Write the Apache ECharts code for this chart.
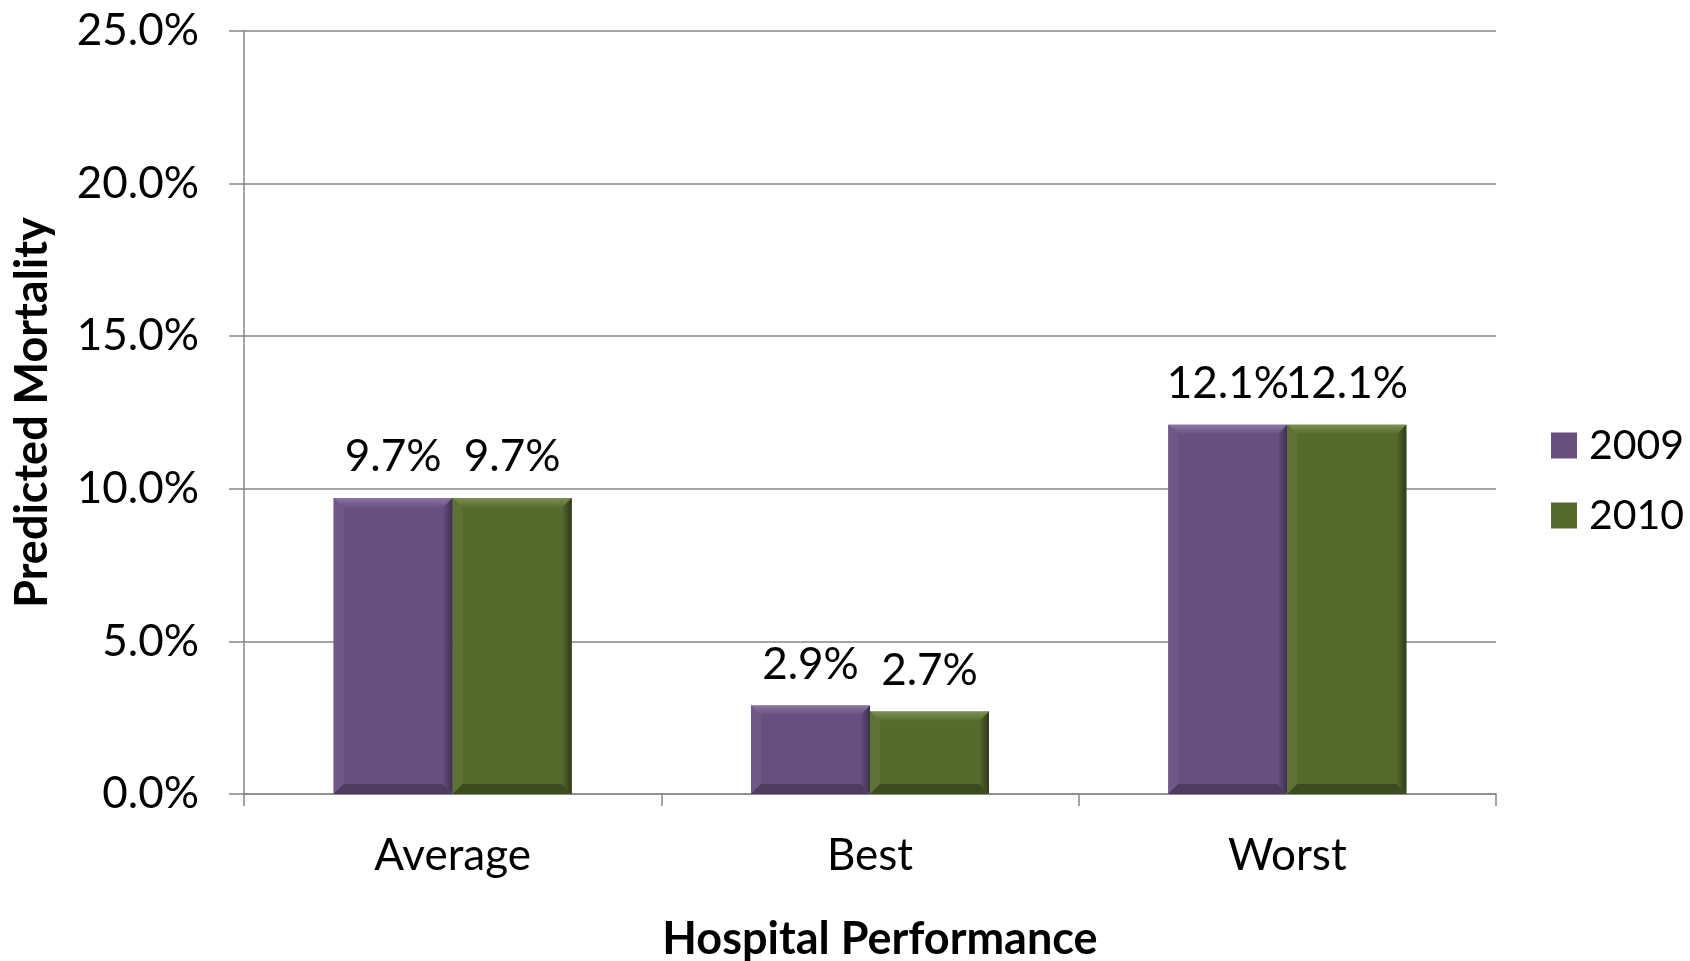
<!DOCTYPE html>
<html>
<head>
<meta charset="utf-8">
<script src="https://cdn.jsdelivr.net/npm/echarts@6/dist/echarts.min.js"></script>
<style>
  html, body { margin: 0; padding: 0; background: #ffffff; }
  #chart { width: 1690px; height: 961px; }
</style>
</head>
<body>
<div id="chart"></div>
<script>
// Predicted mortality by hospital performance group, 2009 vs 2010 (percent)
const categories = ['Average', 'Best', 'Worst'];
const years = ['2009', '2010'];
const values2009 = [9.7, 2.9, 12.1];
const values2010 = [9.7, 2.7, 12.1];
const yTicks = [0, 5, 10, 15, 20, 25];

const FONT = 'Lato, "Open Sans", sans-serif';
const BAR_W = 119;
const BEVEL = 10;

// base fill and bevel facets (top, left, right, bottom) per year
const palette = [
  { base: '#675080', top: '#8b76a6', left: '#6f5889', right: '#3e2f4e', bottom: '#4d3b60' },
  { base: '#566a2d', top: '#7b9052', left: '#5e7333', right: '#2e3a16', bottom: '#3d4c1e' }
];

function bevelRenderer(seriesIdx) {
  return function (params, api) {
    const cat = api.value(0);
    const val = api.value(1);
    const base = api.coord([cat, 0]);
    const top = api.coord([cat, val]);
    const x0 = seriesIdx === 0 ? base[0] - BAR_W : base[0];
    const x1 = x0 + BAR_W;
    const y0 = top[1];
    const y1 = base[1];
    const b = Math.min(BEVEL, (y1 - y0) / 2);
    const p = palette[seriesIdx];
    const poly = (pts, fill) => ({ type: 'polygon', shape: { points: pts }, style: { fill: fill }, silent: true });
    return {
      type: 'group',
      children: [
        poly([[x0, y0], [x1, y0], [x1 - b, y0 + b], [x0 + b, y0 + b]], {
          type: 'linear', x: 0, y: 0, x2: 0, y2: 1,
          colorStops: [{ offset: 0, color: p.top }, { offset: 1, color: p.base }]
        }),
        poly([[x0, y0], [x0 + b, y0 + b], [x0 + b, y1 - b], [x0, y1]], p.left),
        poly([[x1, y0], [x1, y1], [x1 - b, y1 - b], [x1 - b, y0 + b]], {
          type: 'linear', x: 0, y: 0, x2: 1, y2: 0,
          colorStops: [{ offset: 0, color: p.base }, { offset: 1, color: p.right }]
        }),
        poly([[x0, y1], [x0 + b, y1 - b], [x1 - b, y1 - b], [x1, y1]], p.bottom)
      ]
    };
  };
}

const seriesValues = [values2009, values2010];

const barSeries = years.map((y, i) => ({
  name: y,
  type: 'bar',
  data: seriesValues[i],
  barWidth: BAR_W,
  barGap: '0%',
  itemStyle: { color: palette[i].base },
  label: {
    show: true,
    position: 'top',
    distance: 19,
    color: '#000000',
    fontFamily: FONT,
    fontSize: 44,
    formatter: (p) => p.value.toFixed(1) + '%'
  },
  z: 2
}));

const bevelSeries = years.map((y, i) => ({
  name: 'bevel-' + y,
  type: 'custom',
  renderItem: bevelRenderer(i),
  data: seriesValues[i].map((v, k) => [k, v]),
  encode: { x: 0, y: 1 },
  silent: true,
  z: 3
}));

const chart = echarts.init(document.getElementById('chart'), null, { renderer: 'canvas' });
chart.setOption({
  backgroundColor: '#ffffff',
  animation: false,
  textStyle: { fontFamily: FONT },
  grid: { left: 244, right: 194, top: 31, bottom: 167, containLabel: false, outerBoundsMode: 'none' },
  legend: {
    data: years,
    orient: 'vertical',
    left: 1551,
    top: 425,
    padding: 0,
    itemWidth: 26,
    itemHeight: 26,
    itemGap: 29,
    icon: 'rect',
    textStyle: { fontFamily: FONT, fontSize: 41, color: '#000000', padding: [0, 0, 0, 7] }
  },
  xAxis: {
    type: 'category',
    data: categories,
    name: 'Hospital Performance',
    nameLocation: 'middle',
    nameGap: 123,
    nameTextStyle: { fontFamily: FONT, fontSize: 45, fontWeight: 'bold', color: '#000000', padding: [0, 0, 0, 20] },
    axisLine: { show: true, lineStyle: { color: '#868686', width: 1.5 } },
    axisTick: { show: true, length: 12, lineStyle: { color: '#868686', width: 1.5 } },
    axisLabel: { fontFamily: FONT, fontSize: 44, color: '#000000', margin: 40 }
  },
  yAxis: {
    type: 'value',
    min: yTicks[0],
    max: yTicks[yTicks.length - 1],
    interval: yTicks[1] - yTicks[0],
    name: 'Predicted Mortality',
    nameLocation: 'middle',
    nameGap: 189,
    nameRotate: 90,
    nameTextStyle: { fontFamily: FONT, fontSize: 45, fontWeight: 'bold', color: '#000000' },
    axisLine: { show: true, lineStyle: { color: '#868686', width: 1.5 } },
    axisTick: { show: true, length: 15, lineStyle: { color: '#868686', width: 1.5 } },
    splitLine: { show: true, lineStyle: { color: '#868686', width: 1.5 } },
    axisLabel: {
      fontFamily: FONT, fontSize: 44, color: '#000000', margin: 45,
      formatter: (v) => v.toFixed(1) + '%'
    }
  },
  series: [...barSeries, ...bevelSeries]
});
</script>
</body>
</html>
